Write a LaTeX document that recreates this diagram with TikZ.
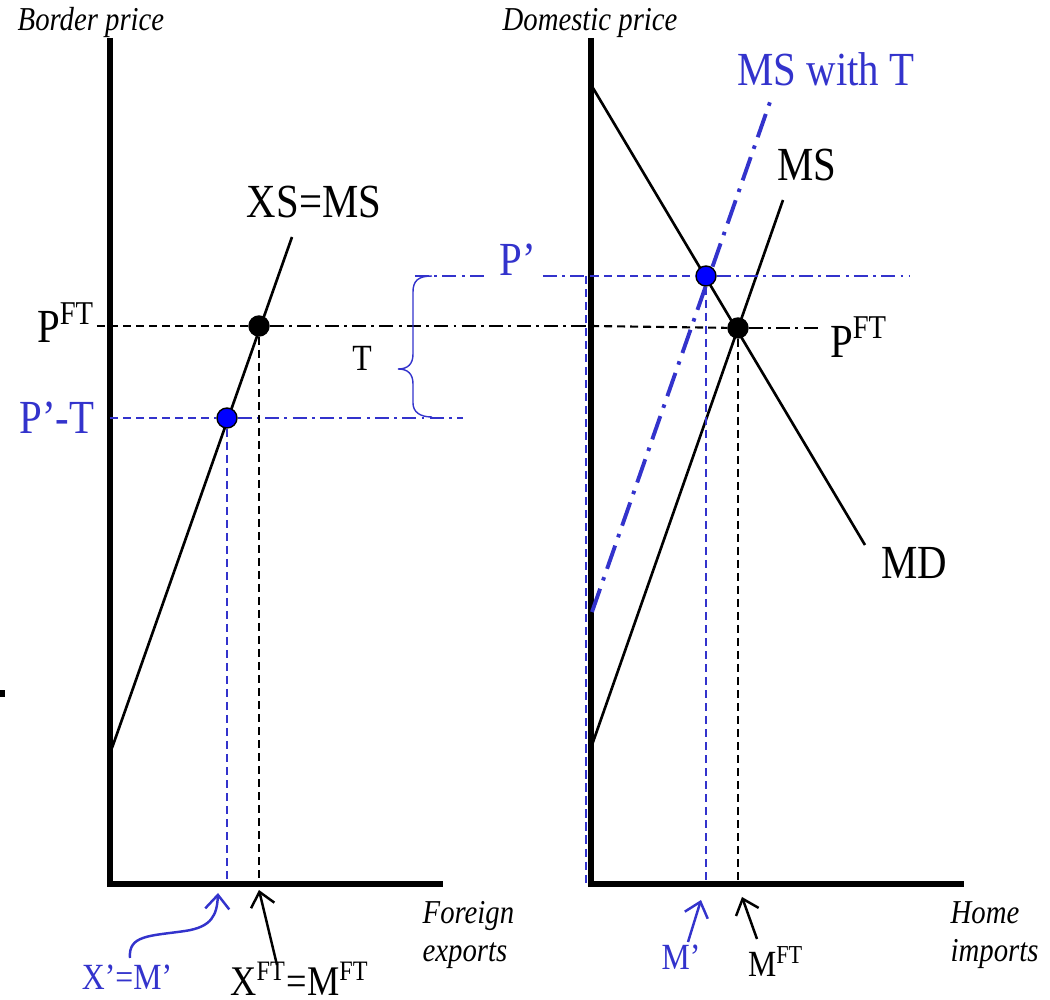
\documentclass[tikz,border=0pt]{standalone}
\usepackage{fontspec}
\setmainfont{Liberation Serif}[FakeStretch=0.86]
\usetikzlibrary{arrows.meta}
\definecolor{tblue}{RGB}{51,51,204}

\begin{document}
\begin{tikzpicture}[
  x=0.01cm, y=-0.01cm,
  axis/.style={line width=1.6pt},
  curve/.style={line width=0.75pt},
  drop/.style={line width=0.6pt, dash pattern=on 2.3pt off 1.4pt},
  pline/.style={line width=0.6pt, dash pattern=on 4pt off 1.5pt on 0.8pt off 1.5pt},
  tline/.style={draw=tblue, line width=1.1pt, dash pattern=on 7pt off 2.5pt on 1pt off 2.5pt},
  brace/.style={draw=tblue, line width=0.4pt},
  pointer/.style={-{Straight Barb[length=1.4mm, width=2.4mm]}, line width=0.7pt},
  ftdot/.style={circle, draw, fill=black, minimum size=2mm, inner sep=0pt},
  tdot/.style={circle, draw, fill=blue, minimum size=2mm, inner sep=0pt, line width=0.4pt},
  biglbl/.style={font=\fontsize{13.5}{16}\selectfont, inner sep=0pt, anchor=base},
  midlbl/.style={font=\fontsize{12}{14}\selectfont, inner sep=0pt, anchor=base},
  smllbl/.style={font=\fontsize{10.5}{12}\selectfont, inner sep=0pt, anchor=base},
  axlbl/.style={font=\fontsize{9.5}{11}\selectfont\itshape, inner sep=0pt, anchor=base west},
]
  \useasboundingbox (0,0) rectangle (1050,1000);

  % ---- Axes: foreign market (left) and home market (right) ----
  \coordinate (yL) at (110,38);
  \coordinate (oL) at (110,884);
  \coordinate (xL) at (443,884);
  \coordinate (yR) at (591,38);
  \coordinate (oR) at (591,884);
  \coordinate (xR) at (964,884);
  \draw[axis] (yL) -- (oL) -- (xL);
  \draw[axis] (yR) -- (oR) -- (xR);
  \fill (0,690) rectangle (5,697);

  \node[axlbl] (bp)  at (17,31)  {Border price};
  \node[axlbl] (dp)  at (502,31) {Domestic price};
  \node[axlbl] (fe1) at (422,924) {Foreign};
  \node[axlbl] (fe2) at (422,962) {exports};
  \node[axlbl] (hi1) at (950,924) {Home};
  \node[axlbl] (hi2) at (950,962) {imports};

  % ---- Curves ----
  \coordinate (xs0) at (112,748);
  \coordinate (xs1) at (292,237);
  \coordinate (md0) at (593,88);
  \coordinate (md1) at (865,545);
  \coordinate (ms0) at (592,745);
  \coordinate (ms1) at (783,200);
  \coordinate (mt0) at (592,612);
  \coordinate (mt1) at (770,102);
  \draw[curve] (xs0) -- (xs1);
  \draw[curve] (md0) -- (md1);
  \draw[curve] (ms0) -- (ms1);
  \draw[tline] (mt0) -- (mt1);

  \node[biglbl] (xsms) at (314,218) {XS=MS};
  \node[biglbl] (msl)  at (807,180) {MS};
  \node[biglbl] (mdl)  at (914,579) {MD};
  \node[biglbl, text=tblue] (mtl) at (826,86) {MS with T};

  % ---- Equilibrium points ----
  \node[ftdot] (ftL) at (259,326) {};
  \node[tdot]  (tL)  at (227,418) {};
  \node[ftdot] (ftR) at (738,328) {};
  \node[tdot]  (tR)  at (706,276) {};

  % ==== FREE TRADE PRICE ====
  \coordinate (pft0) at (97,326);
  \coordinate (pft1) at (820,328);
  \draw[drop] (pft0) -- (ftL);
  \draw[pline] (ftL) -- (ftL -| oR);
  \draw[drop] (ftL -| oR) -- (ftR);
  \draw[pline] (ftR) -- (pft1);
  \node[biglbl] (pftL) at (66,343) {P\textsuperscript{FT}};
  \node[biglbl] (pftR) at (859,357) {P\textsuperscript{FT}};

  % ==== PRICES WITH TARIFF ====
  \coordinate (pt1) at (463,418);
  \draw[drop, tblue] (tL -| oL) -- (tL);
  \draw[pline, tblue] (tL) -- (pt1);
  \node[biglbl, text=tblue] (ptl) at (57,433) {P’-T};

  \coordinate (pp0) at (415,276);
  \coordinate (pp1) at (484,276);
  \coordinate (pp2) at (543,276);
  \coordinate (pp3) at (910,276);
  \draw[pline, tblue] (pp0) -- (pp1);
  \draw[pline, tblue] (pp2) -- (tR -| oR);
  \draw[drop, tblue] (tR -| oR) -- (tR);
  \draw[pline, tblue] (tR) -- (pp3);
  \node[biglbl, text=tblue] (ppl) at (518,276) {P’};
  \draw[drop, tblue] (586,276) -- (586,884);

  % brace for the tariff
  \coordinate (brT) at (432,276);
  \coordinate (brM) at (398,369);
  \coordinate (brB) at (432,417);
  \draw[brace] (brT) .. controls (418,276) and (413,281) .. (413,292) -- (413,354)
    .. controls (413,364) and (408,369) .. (brM)
    .. controls (408,369) and (413,374) .. (413,384) -- (413,403)
    .. controls (413,412) and (420,417) .. (brB);
  \node[smllbl] (tlab) at (362,370) {T};

  % ==== QUANTITIES ====
  \draw[drop] (ftL) -- (ftL |- oL);
  \draw[drop, tblue] (tL) -- (tL |- oL);
  \draw[drop] (ftR) -- (ftR |- oR);
  \draw[drop, tblue] (tR) -- (tR |- oR);

  \node[smllbl, text=tblue] (xm)  at (127,990) {X’=M’};
  \node[midlbl] (xft) at (300,996) {X\textsuperscript{FT}=M\textsuperscript{FT}};
  \node[smllbl, text=tblue] (mp)  at (681,970) {M’};
  \node[smllbl] (mft) at (776,977) {M\textsuperscript{FT}};

  \coordinate (xmTail) at (130,958);
  \coordinate (xmTip)  at (218,893);
  \coordinate (xfTail) at (277,965);
  \coordinate (xfTip)  at (259,890);
  \coordinate (mpTail) at (688,942);
  \coordinate (mpTip)  at (701,900);
  \coordinate (mfTail) at (757,939);
  \coordinate (mfTip)  at (742,897);
  \draw[pointer, tblue] (xmTail) .. controls (128,935) and (150,936) .. (185,931)
    .. controls (212,927) and (217,915) .. (xmTip);
  \draw[pointer] (xfTail) -- (xfTip);
  \draw[pointer, tblue] (mpTail) -- (mpTip);
  \draw[pointer] (mfTail) -- (mfTip);
\end{tikzpicture}
\end{document}
